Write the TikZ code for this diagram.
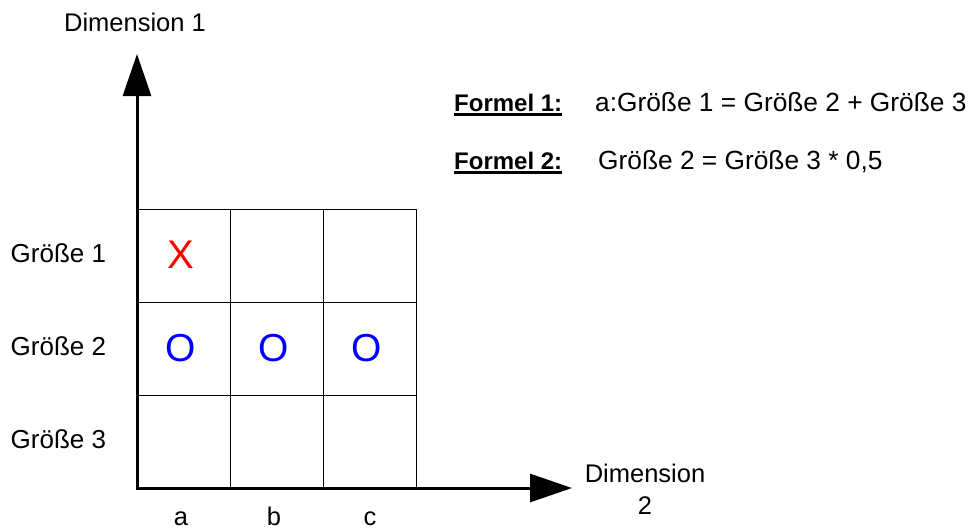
\documentclass[tikz,border=0pt]{standalone}
\usepackage{fontspec}
\setmainfont{Liberation Sans}
\usetikzlibrary{arrows.meta}
\newcommand\myul[1]{\setbox0\hbox{#1}\rlap{\rule[-4.6pt]{\wd0}{2.3pt}}\box0}
\begin{document}
\begin{tikzpicture}[x=1pt,y=-1pt,
  lbl/.style={font=\fontsize{25.5}{32.3}\selectfont, inner sep=0pt},
  rowlbl/.style={font=\fontsize{26}{32}\selectfont, inner sep=0pt},
  formtxt/.style={font=\fontsize{26.3}{32}\selectfont, inner sep=0pt},
  formhead/.style={font=\fontsize{24}{30}\selectfont\bfseries, inner sep=0pt},
  cell/.style={draw, line width=1pt, minimum width=93pt, minimum height=93pt, inner sep=0pt, anchor=north west},
  axisline/.style={line width=3pt, -{Triangle[length=42pt,width=28pt]}},
  mark x/.style={font=\fontsize{40}{40}\selectfont, text={rgb,255:red,255;green,0;blue,0}, inner sep=0pt},
  mark o/.style={font=\fontsize{39}{39}\selectfont, text={rgb,255:red,0;green,0;blue,255}, inner sep=0pt}
]
\useasboundingbox (0,0) rectangle (974,530);

% grid cells
\node[cell] (a1) at (137,209) {};
\node[cell] (b1) at (230,209) {};
\node[cell] (c1) at (323,209) {};
\node[cell] (a2) at (137,302) {};
\node[cell] (b2) at (230,302) {};
\node[cell] (c2) at (323,302) {};
\node[cell] (a3) at (137,395) {};
\node[cell] (b3) at (230,395) {};
\node[cell] (c3) at (323,395) {};

% marks
\node[mark x] (xa1) at ([xshift=-3pt,yshift=1pt]a1.center) {X};
\node[mark o] (oa2) at ([xshift=-3pt,yshift=1pt]a2.center) {O};
\node[mark o] (ob2) at ([xshift=-3pt,yshift=1pt]b2.center) {O};
\node[mark o] (oc2) at ([xshift=-3pt,yshift=1pt]c2.center) {O};

% axes
\coordinate (ybase) at (137,489.5);
\coordinate (ytip) at (137,54);
\coordinate (xbase) at (135.5,488);
\coordinate (xtip) at (572,488);
\draw[axisline] (ybase) -- (ytip);
\draw[axisline] (xbase) -- (xtip);

% axis labels
\node[lbl, anchor=base] (dim1) at (135,31.5) {Dimension 1};
\node[lbl, anchor=north, align=center] (dim2) at (645,463.4) {Dimension\\2};

\node[rowlbl, anchor=base west] (g1) at (10.5,262) {Größe 1};
\node[rowlbl, anchor=base west] (g2) at (10.5,355) {Größe 2};
\node[rowlbl, anchor=base west] (g3) at (10.5,448) {Größe 3};

\node[lbl, anchor=base] (la) at (181,525.5) {a};
\node[lbl, anchor=base] (lb) at (274,525.5) {b};
\node[lbl, anchor=base] (lc) at (370,525.5) {c};

% formulas
\node[formhead, anchor=base west] (f1) at (454,111) {\myul{Formel 1:}};
\node[formtxt, anchor=base west] (t1) at (595,111) {a:Größe 1 = Größe 2 + Größe 3};
\node[formhead, anchor=base west] (f2) at (454,169) {\myul{Formel 2:}};
\node[formtxt, anchor=base west] (t2) at (598,169) {Größe 2 = Größe 3 * 0,5};
\end{tikzpicture}
\end{document}
